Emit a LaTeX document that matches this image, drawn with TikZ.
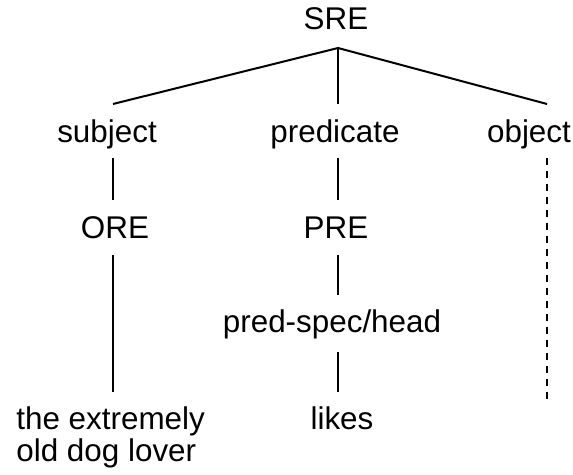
\documentclass[tikz,border=0pt]{standalone}
\usepackage{fontspec}
\setmainfont{Liberation Sans}
\begin{document}
\begin{tikzpicture}[x=0.5pt,y=-0.5pt,
  lbl/.style={inner sep=0pt,anchor=base,font=\fontsize{15.7}{16}\selectfont},
  edge/.style={line width=1pt},
  dashedge/.style={line width=1pt,dash pattern=on 3.5pt off 3pt}]
\useasboundingbox (0,0) rectangle (573,475);
% labels (positions are text baselines)
\node[lbl] (sre) at (336,30) {SRE};
\node[lbl] (subj) at (107,143) {subject};
\node[lbl] (pred) at (335,143) {predicate};
\node[lbl] (obj) at (529,143) {object};
\node[lbl] (ore) at (115,239) {ORE};
\node[lbl] (pre) at (336,239) {PRE};
\node[lbl] (psh) at (332,333) {pred-spec/head};
\node[lbl] (likes) at (342,430) {likes};
\node[lbl,anchor=base west,align=left] (np) at (16,462) {the extremely\\old dog lover};
% attachment points of the branches
\coordinate (apex) at (338,48);
\coordinate (subjtop) at (113,104);
\coordinate (predtop) at (338,104);
\coordinate (objtop) at (547,104);
\coordinate (subjbot) at (113,158);
\coordinate (predbot) at (338,158);
\coordinate (objbot) at (547,158);
\coordinate (oretop) at (113,200);
\coordinate (pretop) at (338,200);
\coordinate (orebot) at (113,255);
\coordinate (prebot) at (338,255);
\coordinate (pshtop) at (338,295);
\coordinate (pshbot) at (338,352);
\coordinate (nptop) at (113,392);
\coordinate (likestop) at (338,392);
\coordinate (objend) at (547,404);
% branches
\draw[edge] (subjtop) -- (apex) -- (objtop);
\draw[edge] (apex) -- (predtop);
\draw[edge] (subjbot) -- (oretop);
\draw[edge] (predbot) -- (pretop);
\draw[edge] (orebot) -- (nptop);
\draw[edge] (prebot) -- (pshtop);
\draw[edge] (pshbot) -- (likestop);
\draw[dashedge] (objbot) -- (objend);
\end{tikzpicture}
\end{document}
